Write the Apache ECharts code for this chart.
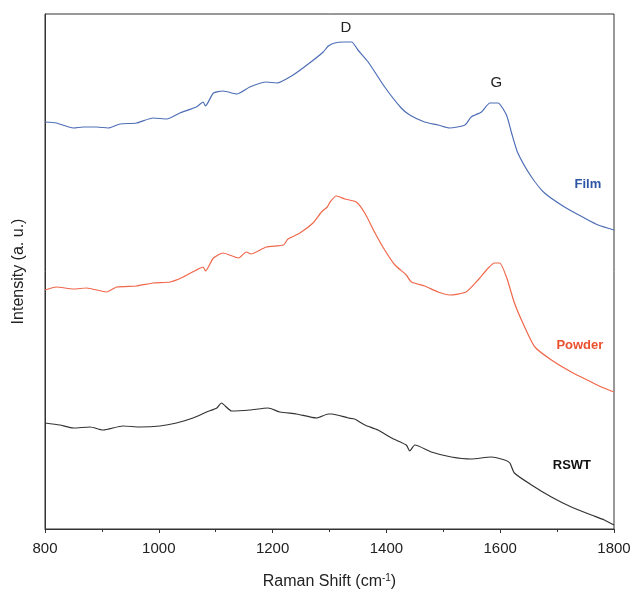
<!DOCTYPE html>
<html>
<head>
<meta charset="utf-8">
<script src="https://cdn.jsdelivr.net/npm/echarts@6/dist/echarts.min.js"></script>
<style>html,body{margin:0;padding:0;background:#fff;}#c{width:634px;height:592px;}</style>
</head>
<body>
<div id="c"></div>
<script>
// Raman shift (cm-1) and intensity (a.u.)
const filmData = [[800,407],[820,406],[850,401],[867,402],[891,402],[911,401],[932,405],[961,406],[990,411],[1014,410],[1037,416],[1066,422],[1078,427],[1082,423],[1096,436],[1113,438],[1137,435],[1160,442],[1189,447],[1207,446],[1236,454],[1265,466],[1289,477],[1298,483],[1309,486],[1325,487],[1339,487],[1350,479],[1368,467],[1397,442],[1426,421],[1441,414],[1467,407],[1491,404],[1511,401],[1538,404],[1549,412],[1567,417],[1582,426],[1596,426],[1611,414],[1620,396],[1631,376],[1655,352],[1678,336],[1713,322],[1748,311],[1772,304],[1800,299]];
const powderData = [[800,239],[820,242],[850,240],[873,241],[908,237],[926,242],[961,243],[990,246],[1020,247],[1043,252],[1066,259],[1078,262],[1082,258],[1096,271],[1113,276],[1140,271],[1154,277],[1162,275],[1189,282],[1219,284],[1227,290],[1248,296],[1271,306],[1286,317],[1296,322],[1301,327],[1312,333],[1327,330],[1347,327],[1362,316],[1380,296],[1397,279],[1415,264],[1435,254],[1444,247],[1467,243],[1491,237],[1511,234],[1540,237],[1561,249],[1579,261],[1590,266],[1599,266],[1611,252],[1625,226],[1643,202],[1661,182],[1690,169],[1725,157],[1760,147],[1778,142],[1800,137]];
const rswtData = [[800,106],[826,104],[850,101],[879,102],[902,99],[937,103],[967,102],[1002,103],[1031,106],[1060,111],[1084,117],[1102,121],[1110,126],[1128,118],[1160,119],[1192,121],[1213,117],[1242,115],[1277,111],[1298,115],[1304,115],[1333,111],[1344,110],[1362,104],[1385,99],[1409,91],[1435,84],[1441,78],[1450,84],[1479,77],[1514,72],[1549,70],[1584,72],[1608,69],[1617,66],[1625,56],[1655,44],[1690,32],[1725,22],[1760,14],[1783,9],[1800,4]];
const peakLabels = [{name:'D', coord:[1329,501]},{name:'G', coord:[1593,446]}];
const seriesLabels = [{name:'Film', coord:[1754,345]},{name:'Powder', coord:[1740,184]},{name:'RSWT', coord:[1726,64]}];
const xTicks = {min:800, max:1800, interval:200};

const chart = echarts.init(document.getElementById('c'), null, {renderer:'canvas'});
const font = 'Liberation Sans, Arial, sans-serif';
function textPoint(item, color, bold, size){
  return {coord:item.coord, symbol:'circle', symbolSize:0,
    label:{show:true, position:'inside', formatter:item.name, color:color,
      fontFamily:font, fontSize:size, fontWeight:bold?'bold':'normal'}};
}
chart.setOption({
  animation:false,
  backgroundColor:'#fff',
  grid:{left:45, right:20, top:14, bottom:63, show:true, borderColor:'#333', borderWidth:1,
    outerBoundsMode:'none', containLabel:false},
  xAxis:{type:'value', min:xTicks.min, max:xTicks.max, interval:xTicks.interval,
    name:'Raman Shift (cm{sup|-1})', nameLocation:'middle', nameGap:44,
    nameTextStyle:{fontFamily:font, fontSize:16, color:'#222',
      rich:{sup:{fontSize:10, verticalAlign:'top', padding:[0,0,8,0], fontFamily:font, color:'#222'}}},
    axisLine:{show:true, lineStyle:{color:'#333', width:1}},
    axisTick:{show:true, inside:false, length:4, lineStyle:{color:'#333'}},
    minorTick:{show:true, splitNumber:2, length:3, lineStyle:{color:'#333'}},
    axisLabel:{fontFamily:font, fontSize:15, color:'#222', margin:12, formatter:v=>String(v)},
    splitLine:{show:false}},
  yAxis:{type:'value', min:0, max:515,
    name:'Intensity (a. u.)', nameLocation:'middle', nameGap:18,
    nameTextStyle:{fontFamily:font, fontSize:16, color:'#222'},
    axisLine:{show:true, lineStyle:{color:'#333', width:1}},
    axisTick:{show:false}, axisLabel:{show:false}, splitLine:{show:false}},
  series:[
    {type:'line', data:filmData, showSymbol:false, smooth:0.2, lineStyle:{color:'#4e6eb6', width:1.2},
      markPoint:{silent:true, data:[
        textPoint(peakLabels[0], '#222', false, 15), textPoint(peakLabels[1], '#222', false, 15),
        textPoint(seriesLabels[0], '#2d55a5', true, 13)]}},
    {type:'line', data:powderData, showSymbol:false, smooth:0.2, lineStyle:{color:'#f0674a', width:1.2},
      markPoint:{silent:true, data:[textPoint(seriesLabels[1], '#eb512f', true, 13)]}},
    {type:'line', data:rswtData, showSymbol:false, smooth:0.2, lineStyle:{color:'#333', width:1.2},
      markPoint:{silent:true, data:[textPoint(seriesLabels[2], '#111', true, 13)]}}
  ]
});
</script>
</body>
</html>
